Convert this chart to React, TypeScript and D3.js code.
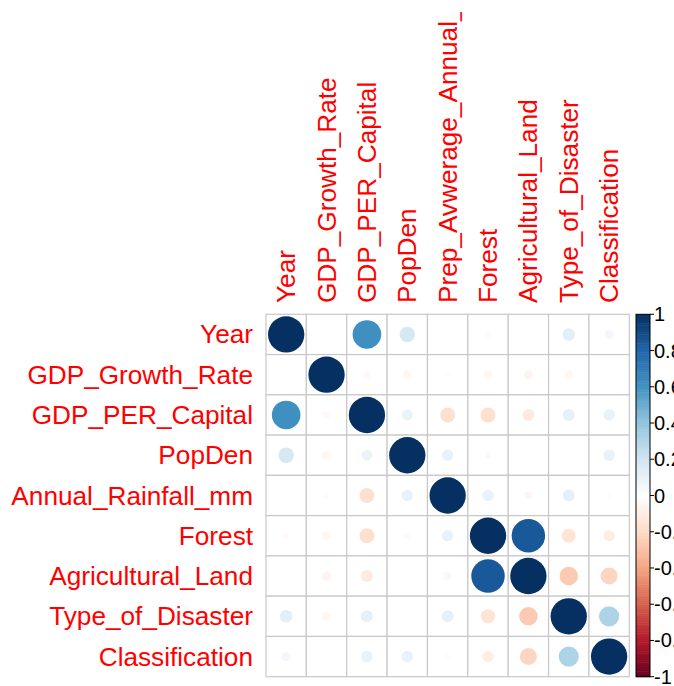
import * as d3 from 'd3';

// variable names (rows / columns of the matrix)
const rowLabels = [
  'Year', 'GDP_Growth_Rate', 'GDP_PER_Capital', 'PopDen', 'Annual_Rainfall_mm',
  'Forest', 'Agricultural_Land', 'Type_of_Disaster', 'Classification',
];
const colLabels = [
  'Year', 'GDP_Growth_Rate', 'GDP_PER_Capital', 'PopDen', 'Prep_Avwerage_Annual_Rainfall_mm',
  'Forest', 'Agricultural_Land', 'Type_of_Disaster', 'Classification',
];

// correlation rows
const rYear = [1, 0.01, 0.62, 0.18, 0.01, -0.03, 0.01, 0.12, 0.06];
const rGrowth = [0.01, 1, -0.04, -0.05, 0.02, -0.05, -0.06, -0.05, 0.01];
const rPerCap = [0.62, -0.04, 1, 0.09, -0.17, -0.17, -0.11, 0.11, 0.1];
const rPopDen = [0.18, -0.05, 0.09, 1, 0.1, 0.03, 0.01, 0.0, 0.1];
const rRain = [0.01, 0.02, -0.17, 0.1, 1, 0.1, -0.05, 0.11, 0.02];
const rForest = [-0.03, -0.05, -0.17, 0.03, 0.1, 1, 0.85, -0.15, -0.1];
const rAgri = [0.01, -0.06, -0.11, 0.01, -0.05, 0.85, 1, -0.26, -0.22];
const rType = [0.12, -0.05, 0.11, 0.0, 0.11, -0.15, -0.26, 1, 0.31];
const rClass = [0.06, 0.01, 0.1, 0.1, 0.02, -0.1, -0.22, 0.31, 1];
const corr = [rYear, rGrowth, rPerCap, rPopDen, rRain, rForest, rAgri, rType, rClass];

const legendTicks = [1, 0.8, 0.6, 0.4, 0.2, 0, -0.2, -0.4, -0.6, -0.8, -1];

const rdbu = ['#67001F', '#B2182B', '#D6604D', '#F4A582', '#FDDBC7', '#FFFFFF',
  '#D1E5F0', '#92C5DE', '#4393C3', '#2166AC', '#053061'];

export default function App() {
  const W = 674, H = 686;
  const x0 = 266, y0 = 314.3, x1 = 629.3, y1 = 676.7;
  const n = rowLabels.length;

  const xs = d3.scaleBand<number>().domain(d3.range(n)).range([x0, x1]);
  const ys = d3.scaleBand<number>().domain(d3.range(n)).range([y0, y1]);
  const cell = xs.bandwidth();

  const color = d3.scaleLinear<string>()
    .domain(d3.range(-1, 1.0001, 0.2))
    .range(rdbu)
    .interpolate(d3.interpolateRgb);

  // legend
  const barX = 636, barW = 14;
  const ly = d3.scaleLinear().domain([1, -1]).range([y0, y1]);
  const steps = d3.range(200).map(i => -1 + (i + 0.5) * 2 / 200);

  const font = "'Liberation Sans', Arial, sans-serif";
  const red = '#FF0000';
  const grid = '#C8C8C8';
  const fs = 26.2;

  return (
    <svg width={W} height={H} style={{ position: 'fixed', left: 0, top: 0, background: '#fff' }}>
      <defs>
        <clipPath id="labclip">
          <rect x={0} y={12} width={W} height={H - 12} />
        </clipPath>
      </defs>
      {/* cells */}
      {corr.map((row, i) => row.map((v, j) => (
        <rect key={`c${i}-${j}`} x={xs(j)} y={ys(i)} width={cell} height={ys.bandwidth()}
          fill="#fff" stroke={grid} strokeWidth={1.2} />
      )))}
      {corr.map((row, i) => row.map((v, j) => Math.abs(v) > 0.001 ? (
        <circle key={`p${i}-${j}`}
          cx={xs(j)! + cell / 2} cy={ys(i)! + ys.bandwidth() / 2}
          r={0.45 * Math.sqrt(Math.abs(v)) * cell}
          fill={color(v)} />
      ) : null))}

      {/* row labels */}
      {rowLabels.map((t, i) => (
        <text key={`r${i}`} x={253} y={ys(i)! + ys.bandwidth() / 2 + 9}
          textAnchor="end" fontFamily={font} fontSize={fs} fill={red}>{t}</text>
      ))}

      {/* column labels */}
      <g clipPath="url(#labclip)">
        {colLabels.map((t, j) => (
          <text key={`l${j}`} transform={`translate(${xs(j)! + cell / 2 + 9},303) rotate(-90)`}
            textAnchor="start" fontFamily={font} fontSize={fs} fill={red}>{t}</text>
        ))}
      </g>

      {/* colour legend */}
      {steps.map((v, i) => (
        <rect key={`g${i}`} x={barX} y={ly(v + 0.005)} width={barW}
          height={Math.abs(ly(0) - ly(0.01)) + 0.5} fill={color(v)} />
      ))}
      <rect x={barX} y={y0} width={barW} height={y1 - y0} fill="none" stroke="#000" strokeWidth={1} />
      {legendTicks.map(t => (
        <g key={`t${t}`}>
          <line x1={barX + barW} x2={barX + barW + 4} y1={ly(t)} y2={ly(t)} stroke="#000" strokeWidth={1} />
          <text x={barX + barW + 4} y={ly(t) + 7} fontFamily={font} fontSize={20} fill="#000">{t}</text>
        </g>
      ))}
    </svg>
  );
}
